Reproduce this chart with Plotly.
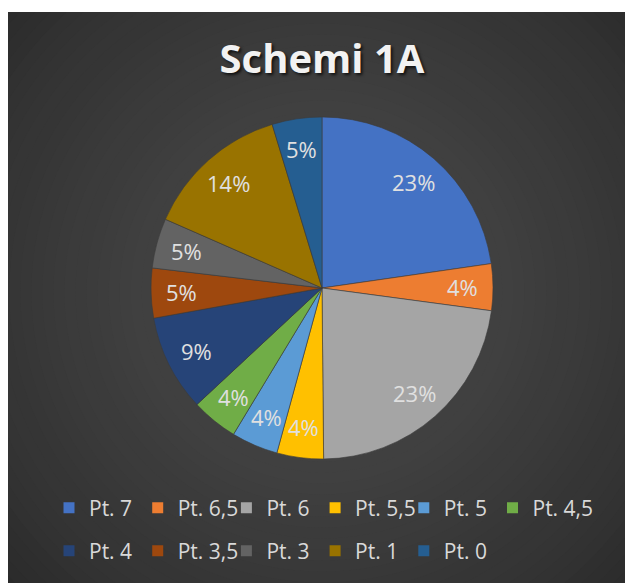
import math
import plotly.graph_objects as go

labels = ["Pt. 7", "Pt. 6,5", "Pt. 6", "Pt. 5,5", "Pt. 5", "Pt. 4,5",
          "Pt. 4", "Pt. 3,5", "Pt. 3", "Pt. 1", "Pt. 0"]
values = [22.7, 4.4, 22.7, 4.4, 4.4, 4.4, 9.1, 4.7, 4.7, 13.7, 4.7]
colors = ["#4472C4", "#ED7D31", "#A5A5A5", "#FFC000", "#5B9BD5", "#70AD47",
          "#264478", "#9E480E", "#636363", "#997300", "#255E91"]
# legend layout: two rows of six / five columns
legend_groups = [("legend", labels[:5]), ("legend3", labels[5:6]), ("legend2", labels[6:])]

W, H = 633, 583
OFF = 8  # page body margin
FONT = "Open Sans"

def px(x):
    return (x - OFF) / W

def py(y):
    return 1 - (y - OFF) / H

fig = go.Figure()

# background: dark panel with a soft radial glow
shapes = [dict(type="rect", xref="paper", yref="paper", x0=0, x1=1, y0=0, y1=1,
               fillcolor="#2a2a2a", line_width=0, layer="below")]
cx, cy = px(322), py(292)
N = 40
rmax = 430
for i in range(N):
    t = i / (N - 1)
    r = rmax * (1 - t) + 4
    c = int(round(0x2a + (0x4c - 0x2a) * t ** 0.8))
    shapes.append(dict(type="circle", xref="paper", yref="paper",
                       xsizemode="pixel", ysizemode="pixel", xanchor=cx, yanchor=cy,
                       x0=-r, x1=r, y0=-r, y1=r, fillcolor=f"rgb({c},{c},{c})",
                       line_width=0, layer="below"))
shapes.append(dict(type="rect", xref="paper", yref="paper", x0=0, x1=1, y0=py(12), y1=1,
                   fillcolor="white", line_width=0, layer="below"))

R = 171
pcx, pcy = 322, 288
fig.add_trace(go.Pie(
    labels=labels, values=values, sort=False, direction="clockwise", rotation=0,
    marker=dict(colors=colors, line=dict(color="#3a3a3a", width=0.6)),
    textinfo="none",
    domain=dict(x=[px(pcx - R), px(pcx + R)], y=[py(pcy + R), py(pcy - R)]),
    showlegend=False, hoverinfo="label+percent",
))

# percentage labels placed along each slice's mid-angle (Excel style)
total = sum(values)
annotations = []
cum = 0.0
for v in values:
    mid = (cum + v / 2) / total * 2 * math.pi
    cum += v
    lx = pcx + 0.82 * R * math.sin(mid)
    ly = pcy - 0.82 * R * math.cos(mid)
    annotations.append(dict(x=px(lx), y=py(ly), xref="paper", yref="paper",
                            text=f"{round(v / total * 100)}%", showarrow=False,
                            xanchor="center", yanchor="middle",
                            font=dict(family=FONT, size=22, color="#e0e0e0")))

for leg, names in legend_groups:
    for name in names:
        c = colors[labels.index(name)]
        fig.add_trace(go.Scatter(
            x=[None], y=[None], mode="markers", name=name,
            marker=dict(symbol="square", size=11, color=c),
            legend=leg,
        ))

COL = 88.7
X0 = 49
legend_common = dict(orientation="h", xanchor="left", yanchor="middle",
                     bgcolor="rgba(0,0,0,0)", font=dict(family=FONT, size=21, color="#d9d9d9"),
                     entrywidthmode="pixels", itemclick=False, itemdoubleclick=False)

fig.update_layout(
    width=W, height=H, autosize=False,
    margin=dict(l=0, r=0, t=0, b=0),
    paper_bgcolor="white", plot_bgcolor="rgba(0,0,0,0)",
    shapes=shapes, annotations=annotations,
    title=dict(text="<b>Schemi 1A</b>", x=px(322), xanchor="center", y=py(59), yanchor="middle",
               font=dict(family=FONT, size=40, color="#f2f2f2",
                         shadow="2px 2px 3px rgba(0,0,0,0.7)")),
    xaxis=dict(visible=False), yaxis=dict(visible=False),
    legend=dict(x=px(X0), y=py(508), entrywidth=COL - 45, **legend_common),
    legend3=dict(x=px(X0 + 5 * COL), y=py(508), entrywidth=80, **legend_common),
    legend2=dict(x=px(X0), y=py(551), entrywidth=COL - 45, **legend_common),
)

fig.write_html("out.html")
